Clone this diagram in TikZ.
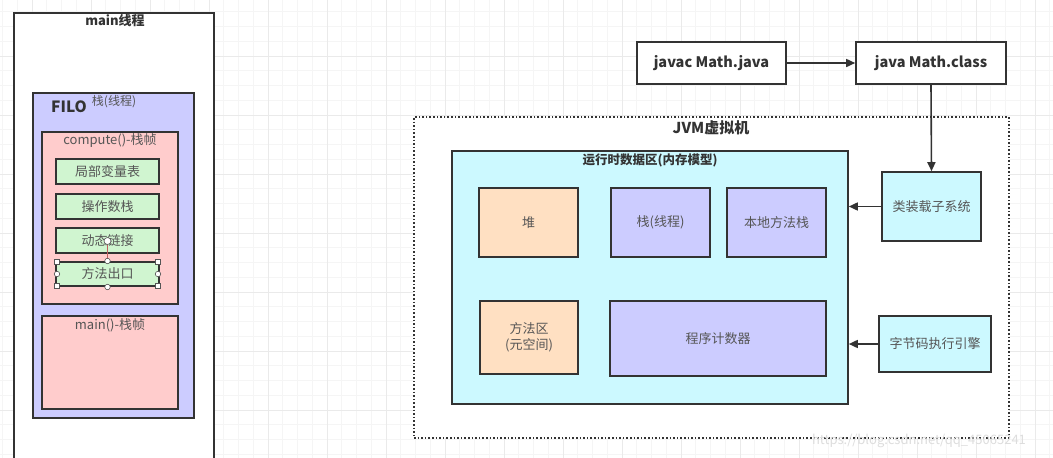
\documentclass[tikz,border=0pt]{standalone}
\usepackage{fontspec}
\setmainfont{Noto Sans CJK SC}
\usetikzlibrary{arrows.meta}
\definecolor{lav}{HTML}{CCCCFF}
\definecolor{pinkf}{HTML}{FFCCCC}
\definecolor{greenf}{HTML}{D0F5D0}
\definecolor{cyanf}{HTML}{CCF9FF}
\definecolor{peach}{HTML}{FFE0C2}
\definecolor{edge}{HTML}{333333}
\definecolor{txt}{HTML}{555555}
\definecolor{gridmin}{HTML}{F5F5F5}
\definecolor{gridmaj}{HTML}{EAEAEA}
\definecolor{handle}{HTML}{555555}
\definecolor{rotline}{HTML}{C06060}
\definecolor{wmark}{HTML}{DDDDDD}
\tikzset{
  box/.style={draw=edge, line width=1.6pt, inner sep=0pt, text=txt,
    font=\fontsize{13}{15.5}\selectfont, align=center},
  title/.style={inner sep=0pt, text=edge, font=\fontsize{13}{15}\selectfont\bfseries},
  plain/.style={inner sep=0pt, text=txt, font=\fontsize{13}{15}\selectfont},
  arr/.style={draw=edge, line width=1.6pt, -{Triangle[length=9pt,width=8pt]}},
  gmin/.style={draw=gridmin, line width=0.8pt},
  gmaj/.style={draw=gridmaj, line width=1pt},
  hsq/.style={draw=handle, fill=white, line width=0.6pt, inner sep=0pt, minimum size=5.5pt, rectangle},
  hci/.style={draw=handle, fill=white, line width=0.6pt, inner sep=0pt, minimum size=5.5pt, circle}
}
\begin{document}
\begin{tikzpicture}[x=1pt,y=-1pt]
\useasboundingbox (0,0) rectangle (1053,458);
\clip (0,0) rectangle (1053,458);
\fill[white] (0,0) rectangle (1053,458);
% grid
\foreach \k in {0,...,71} \draw[gmin] ({2.5+\k*14.75},0) -- ({2.5+\k*14.75},458);
\foreach \k in {-1,...,31} \draw[gmin] (0,{11.75+\k*14.75}) -- (1053,{11.75+\k*14.75});
\foreach \k in {0,...,17} \draw[gmaj] ({32+\k*59},0) -- ({32+\k*59},458);
\foreach \k in {-1,...,7} \draw[gmaj] (0,{56+\k*59}) -- (1053,{56+\k*59});

% ---- left: main thread ----
\node[box, fill=white, line width=1.4pt, minimum width=200pt, minimum height=458pt] (mainthread) at (114,242) {};
\node[title] (mainlabel) at (115,21) {main线程};
\node[box, fill=lav, minimum width=161pt, minimum height=325pt] (stack) at (113.5,255.5) {};
\node[inner sep=0pt, text=edge, font=\fontsize{15.5}{18}\selectfont\bfseries] (filo) at (69,107) {FILO};
\node[plain, font=\fontsize{12}{14}\selectfont] (stacklabel) at (114,102) {栈(线程)};
\node[box, fill=pinkf, minimum width=136pt, minimum height=172pt] (compute) at (110,218) {};
\node[plain] (computelabel) at (110,141) {compute()-栈帧};
\node[box, fill=greenf, minimum width=103pt, minimum height=25pt] (locals) at (107.5,171.5) {局部变量表};
\node[box, fill=greenf, minimum width=103pt, minimum height=25pt] (operand) at (107.5,206.5) {操作数栈};
\node[box, fill=greenf, minimum width=103pt, minimum height=25pt] (dynlink) at (107.5,240.5) {动态链接};
\node[box, fill=greenf, minimum width=103pt, minimum height=24pt] (retaddr) at (107.5,274) {方法出口};
\node[box, fill=pinkf, minimum width=136pt, minimum height=93pt] (mainframe) at (110,362.5) {};
\node[plain] (mainframelabel) at (110,325) {main()-栈帧};

% selection handles on the method-exit frame
\draw[rotline, line width=0.8pt] (107.5,241) -- (107.5,260);
\node[hci, minimum size=7pt] (hrot) at (107.5,241) {};
\node[hsq] (h1) at (57,262) {};
\node[hsq] (h2) at (158,262) {};
\node[hsq] (h3) at (57,286) {};
\node[hsq] (h4) at (158,286) {};
\node[hci] (h5) at (57,274) {};
\node[hci] (h6) at (158,274) {};
\node[hci] (h7) at (107.5,261) {};
\node[hci] (h8) at (107.5,287) {};

% ---- right: JVM ----
\node[box, fill=white, text=edge, font=\fontsize{14.5}{17}\selectfont\bfseries, minimum width=149pt, minimum height=42pt] (javac) at (711.5,63) {javac Math.java};
\node[box, fill=white, text=edge, font=\fontsize{14.5}{17}\selectfont\bfseries, minimum width=150pt, minimum height=42pt] (java) at (931,63) {java Math.class};
\node[draw=edge, line width=1.6pt, dotted, fill=white, inner sep=0pt, minimum width=595pt, minimum height=321pt] (jvm) at (711.5,277.5) {};
\node[title, font=\fontsize{15}{17}\selectfont\bfseries] (jvmlabel) at (711,128) {JVM虚拟机};
\node[box, fill=cyanf, minimum width=396pt, minimum height=253pt] (runtime) at (650,277.5) {};
\node[title, font=\fontsize{12.5}{15}\selectfont\bfseries] (runtimelabel) at (650,160) {运行时数据区(内存模型)};
\node[box, fill=peach, minimum width=99pt, minimum height=69pt] (heap) at (528.5,222.5) {堆};
\node[box, fill=lav, minimum width=99pt, minimum height=69pt] (vmstack) at (660.5,222.5) {栈(线程)};
\node[box, fill=lav, minimum width=99pt, minimum height=69pt] (native) at (776.5,222.5) {本地方法栈};
\node[box, fill=peach, minimum width=98pt, minimum height=73pt] (method) at (529,337.5) {方法区\\(元空间)};
\node[box, fill=lav, minimum width=216pt, minimum height=75pt] (pc) at (718,338.5) {程序计数器};
\node[box, fill=cyanf, minimum width=99pt, minimum height=69pt] (loader) at (931.5,206.5) {类装载子系统};
\node[box, fill=cyanf, minimum width=112pt, minimum height=56pt] (engine) at (935,344) {字节码执行引擎};

\draw[arr] (javac.east) -- (java.west);
\draw[arr] (java.south) -- (loader.north);
\draw[arr] (loader.west) -- (loader.west -| runtime.east);
\draw[arr] (engine.west) -- (engine.west -| runtime.east);

% watermark
\node[inner sep=0pt, text=wmark, font=\fontsize{13}{15}\selectfont] (watermark) at (919,441) {https://blog.csdn.net/qq\_45065241};
\end{tikzpicture}
\end{document}
